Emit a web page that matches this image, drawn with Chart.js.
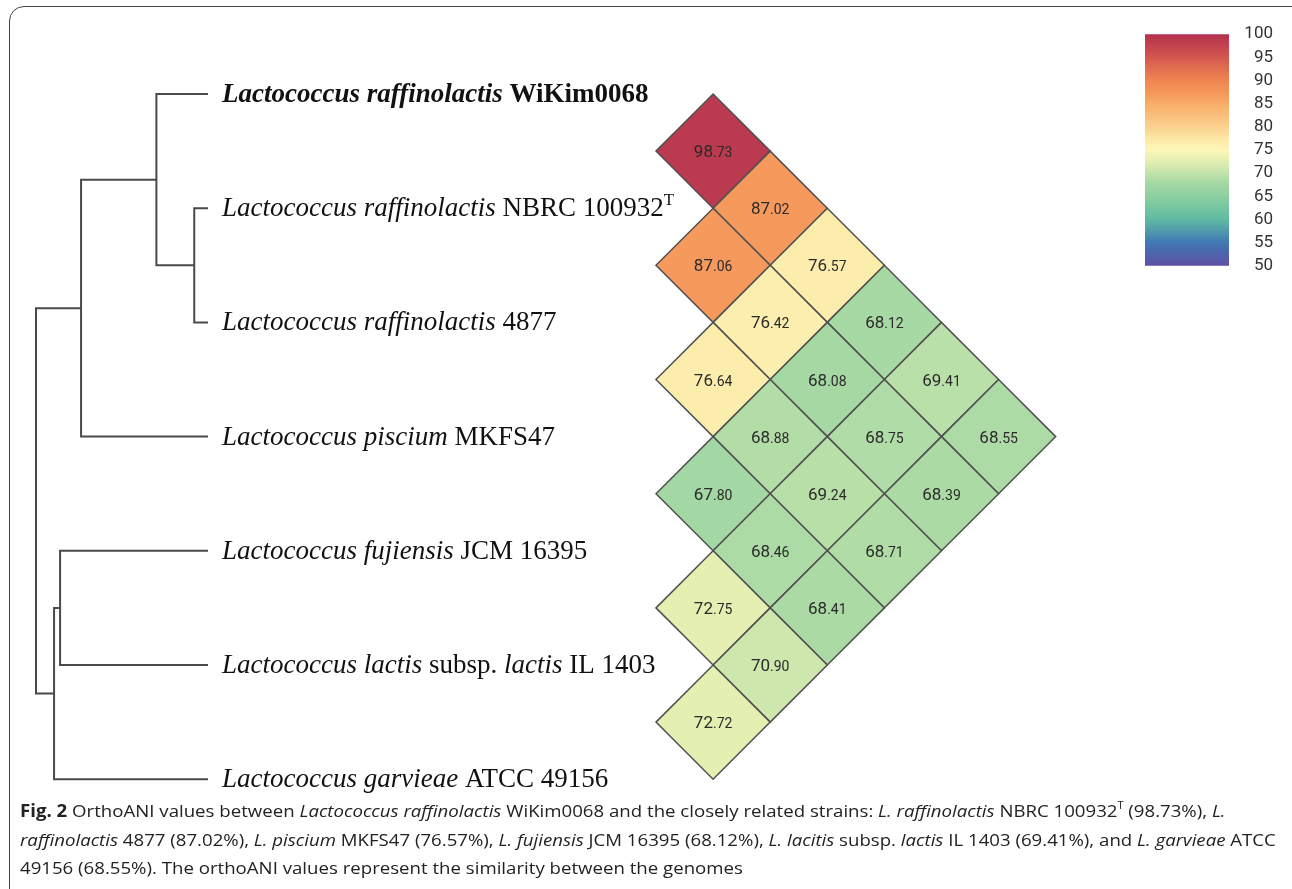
<!DOCTYPE html>
<html>
<head>
<meta charset="utf-8">
<script src="https://cdn.jsdelivr.net/npm/chart.js@4.4.0/dist/chart.umd.min.js"></script>
<style>
  html, body { margin: 0; padding: 0; background: #fff; }
  body { width: 1292px; height: 889px; position: relative; overflow: hidden; }
  #frame { position: absolute; left: 9px; top: 6px; width: 1300px; height: 900px;
    border: 1.5px solid #444; border-radius: 15px; box-sizing: border-box; }
  #main { position: absolute; left: 0; top: 0; }
  #bar { position: absolute; left: 1145px; top: 10px; }
  #caption { position: absolute; left: 20px; top: 797px; display: inline-block;
    font-family: "Open Sans", sans-serif; font-size: 17px; line-height: 28.5px;
    color: #222; white-space: nowrap; transform-origin: 0 0; }
  #caption sup { font-size: 10px; vertical-align: 8px; line-height: 0; }
</style>
</head>
<body>
<div id="frame"></div>
<canvas id="main" width="1292" height="889"></canvas>
<canvas id="bar" width="128" height="280"></canvas>
<div id="caption">
  <div><b>Fig. 2</b> OrthoANI values between <i>Lactococcus raffinolactis</i> WiKim0068 and the closely related strains: <i>L. raffinolactis</i> NBRC 100932<sup>T</sup> (98.73%), <i>L.</i></div>
  <div><i>raffinolactis</i> 4877 (87.02%), <i>L. piscium</i> MKFS47 (76.57%), <i>L. fujiensis</i> JCM 16395 (68.12%), <i>L. lacitis</i> subsp. <i>lactis</i> IL 1403 (69.41%), and <i>L. garvieae</i> ATCC</div>
  <div>49156 (68.55%). The orthoANI values represent the similarity between the genomes</div>
</div>
<script>
// strains in tree order, top to bottom (text segments: i = italic, b = bold, r = roman)
const STRAINS = [
  [['Lactococcus raffinolactis', 'bi'], [' WiKim0068', 'b']],
  [['Lactococcus raffinolactis', 'i'], [' NBRC 100932', 'r'], ['T', 'sup']],
  [['Lactococcus raffinolactis', 'i'], [' 4877', 'r']],
  [['Lactococcus piscium', 'i'], [' MKFS47', 'r']],
  [['Lactococcus fujiensis', 'i'], [' JCM 16395', 'r']],
  [['Lactococcus lactis', 'i'], [' subsp. ', 'r'], ['lactis', 'i'], [' IL 1403', 'r']],
  [['Lactococcus garvieae', 'i'], [' ATCC 49156', 'r']],
]

// orthoANI of strain i against every strain listed below it
const ANI_1 = [98.73, 87.02, 76.57, 68.12, 69.41, 68.55]
const ANI_2 = [87.06, 76.42, 68.08, 68.75, 68.39]
const ANI_3 = [76.64, 68.88, 69.24, 68.71]
const ANI_4 = [67.80, 68.46, 68.41]
const ANI_5 = [72.75, 70.90]
const ANI_6 = [72.72]
const ANI_ROWS = [ANI_1, ANI_2, ANI_3, ANI_4, ANI_5, ANI_6]

// dendrogram joins, bottom up: numbers are strains (1-based), letters are joins
const NODE_IDS = ['A', 'B', 'C', 'D', 'E', 'R']
const NODE_LEFT = [2, 1, 'B', 5, 'D', 'C']
const NODE_RIGHT = [3, 'A', 4, 6, 7, 'E']
const NODE_DEPTH = [0.92, 0.70, 0.262, 0.14, 0.105, 0] // tips sit at 1

// colour bar
const BAR_MIN = 50
const BAR_MAX = 100
const BAR_STEP = 5

// layout (px)
const W = 1292, H = 889
const ROW_TOP = 94
const ROW_GAP = 114.2
const TREE_ROOT_X = 36, TREE_TIP_X = 208
const HEAT_X0 = 656

const CMAP = [
  [50, '#5e4fa2'], [55, '#4178b4'], [60, '#5fbaa4'], [65, '#8ccf9f'], [68, '#a5d8a4'],
  [70, '#c3e3ab'], [72.5, '#e2eeb1'], [75, '#fdf7b9'], [77.5, '#fce7a6'], [80, '#fbd08e'],
  [85, '#f8ad68'], [87, '#f59a5c'], [90, '#ef8550'], [95, '#d4574f'], [100, '#b2304f'],
]

const hexRgb = h => [1, 3, 5].map(k => parseInt(h.slice(k, k + 2), 16))

const colorAt = v => {
  for (let k = 1; k < CMAP.length; k++) {
    const [v1, c1] = CMAP[k - 1]
    const [v2, c2] = CMAP[k]
    if (v <= v2 || k === CMAP.length - 1) {
      const t = Math.max(0, Math.min(1, (v - v1) / (v2 - v1)))
      const a = hexRgb(c1), b = hexRgb(c2)
      const rgb = a.map((x, n) => Math.round(x + (b[n] - x) * t))
      return `rgb(${rgb.join(',')})`
    }
  }
}

// heatmap cells: x = distance between the two strains, y = midway between them
const cells = []
ANI_ROWS.forEach((row, i) => {
  row.forEach((v, k) => {
    const a = i + 1
    const b = i + 2 + k
    cells.push({ x: b - a, y: (a + b) / 2, v })
  })
})

// dendrogram elbows
const pos = {}
STRAINS.forEach((_, k) => { pos[k + 1] = { x: 1, y: k + 1 } })
const treeSets = NODE_IDS.map((id, k) => {
  const a = pos[NODE_LEFT[k]]
  const b = pos[NODE_RIGHT[k]]
  const d = NODE_DEPTH[k]
  pos[id] = { x: d, y: (a.y + b.y) / 2 }
  return {
    type: 'scatter',
    xAxisID: 'xt',
    data: [{ x: a.x, y: a.y }, { x: d, y: a.y }, { x: d, y: b.y }, { x: b.x, y: b.y }],
    showLine: true,
    borderColor: '#4a4a4a',
    borderWidth: 2,
    pointRadius: 0,
    tension: 0,
  }
})

const fontFor = s => {
  const fam = '"Liberation Serif", "Times New Roman", serif'
  if (s === 'bi') return `italic bold 27px ${fam}`
  if (s === 'b') return `bold 27px ${fam}`
  if (s === 'i') return `italic 27px ${fam}`
  if (s === 'sup') return `17px ${fam}`
  return `27px ${fam}`
}

const labelPlugin = {
  id: 'labels',
  afterDatasetsDraw(chart) {
    const { ctx, scales } = chart
    ctx.save()
    ctx.fillStyle = '#111'
    ctx.textBaseline = 'alphabetic'
    ctx.textAlign = 'left'
    const x0 = scales.xt.getPixelForValue(1) + 14
    STRAINS.forEach((segs, k) => {
      const base = scales.y.getPixelForValue(k + 1) + 8
      let x = x0
      segs.forEach(([t, s]) => {
        ctx.font = fontFor(s)
        ctx.fillText(t, x, s === 'sup' ? base - 11 : base)
        x += ctx.measureText(t).width
      })
    })

    // cell values
    ctx.fillStyle = '#2a2a2a'
    chart.getDatasetMeta(0).data.forEach((pt, k) => {
      const [ip, dp] = cells[k].v.toFixed(2).split('.')
      ctx.font = '17px Roboto'
      const w1 = ctx.measureText(ip).width
      ctx.font = '14px Roboto'
      const w2 = ctx.measureText('.' + dp).width
      const sx = pt.x - (w1 + w2) / 2
      ctx.font = '17px Roboto'
      ctx.fillText(ip, sx, pt.y + 6)
      ctx.font = '14px Roboto'
      ctx.fillText('.' + dp, sx + w1, pt.y + 6)
    })
    ctx.restore()
  },
}

const half = ROW_GAP / 2
const tipSpan = TREE_TIP_X - TREE_ROOT_X

new Chart(document.getElementById('main'), {
  data: {
    datasets: [
      {
        type: 'scatter',
        data: cells,
        pointStyle: 'rectRot',
        pointRadius: ctx => {
          const s = ctx.chart.scales.x
          return s.getPixelForValue(1) - s.getPixelForValue(0)
        },
        pointBackgroundColor: ctx => colorAt(ctx.raw ? ctx.raw.v : 70),
        pointBorderColor: '#505050',
        pointBorderWidth: 1.5,
      },
      ...treeSets,
    ],
  },
  options: {
    responsive: false,
    animation: false,
    events: [],
    layout: { padding: 0 },
    plugins: { legend: { display: false }, tooltip: { enabled: false } },
    scales: {
      x: { type: 'linear', display: false, bounds: 'data', min: -HEAT_X0 / half, max: (W - HEAT_X0) / half },
      xt: { type: 'linear', display: false, bounds: 'data', min: -TREE_ROOT_X / tipSpan, max: (W - TREE_ROOT_X) / tipSpan },
      y: { type: 'linear', display: false, bounds: 'data', reverse: true, min: 1 - ROW_TOP / ROW_GAP, max: 1 + (H - ROW_TOP) / ROW_GAP },
    },
  },
  plugins: [labelPlugin],
})

// colour bar
new Chart(document.getElementById('bar'), {
  type: 'bar',
  data: {
    labels: [''],
    datasets: [{
      data: [[BAR_MIN, BAR_MAX]],
      backgroundColor: ctx => {
        const area = ctx.chart.chartArea
        if (!area) return '#fff'
        const g = ctx.chart.ctx.createLinearGradient(0, area.bottom, 0, area.top)
        CMAP.forEach(([v, c]) => g.addColorStop((v - BAR_MIN) / (BAR_MAX - BAR_MIN), c))
        return g
      },
      borderWidth: 0,
      barPercentage: 1,
      categoryPercentage: 1,
    }],
  },
  options: {
    responsive: false,
    animation: false,
    events: [],
    layout: { padding: { top: 15, bottom: 15, left: 0, right: 0 } },
    plugins: { legend: { display: false }, tooltip: { enabled: false } },
    scales: {
      x: { display: false },
      y: {
        position: 'right',
        min: BAR_MIN,
        max: BAR_MAX,
        border: { display: false },
        grid: { display: false, drawTicks: false },
        ticks: {
          stepSize: BAR_STEP,
          autoSkip: false,
          crossAlign: 'far',
          padding: 14,
          color: '#333',
          font: { family: 'Roboto', size: 17 },
        },
        afterFit: s => { s.width = 44 },
      },
    },
  },
})

// squeeze the caption to the width of the printed one
const cap = document.getElementById('caption')
cap.style.transform = `scaleX(${1256 / cap.offsetWidth})`
</script>
</body>
</html>
